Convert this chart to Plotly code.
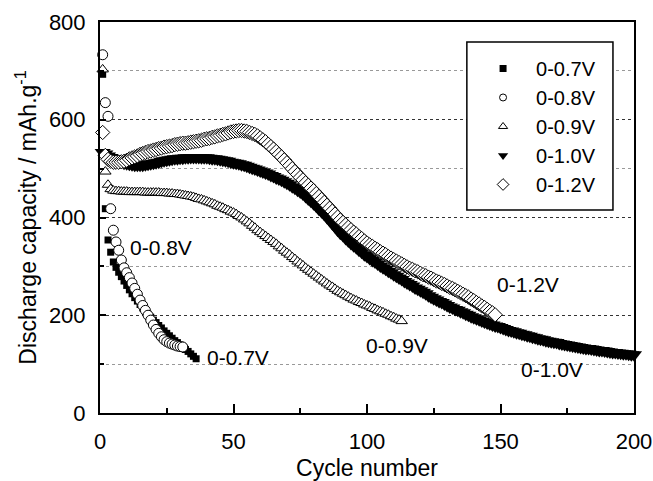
import plotly.graph_objects as go

# ---------------- data ----------------
v07 = [693, 418, 354, 329, 309, 298, 288, 279, 270, 261, 252, 244, 236, 229, 222, 215, 208, 202,
       196, 190, 185, 179, 174, 168, 163, 158, 153, 148, 144, 139, 135, 130, 126, 121, 116, 111]

v08 = [733, 635, 607, 418, 374, 350, 333, 313, 297, 287, 277, 266, 255, 243, 231, 220, 210, 200,
       190, 180, 171, 163, 156, 150, 146, 143, 141, 139, 137, 136, 135]

v09 = [703, 494, 467, 458, 455, 454, 454, 453, 453, 453, 452, 452, 452, 452, 452, 452, 451, 451,
       451, 451, 451, 451, 450, 450, 450, 449, 449, 448, 448, 447, 446, 445, 444, 443, 442, 440,
       438, 437, 435, 433, 431, 429, 427, 424, 422, 420, 417, 415, 412, 410, 407, 403, 400, 396,
       392, 388, 383, 379, 374, 370, 366, 362, 358, 354, 350, 346, 341, 337, 332, 328, 324, 319,
       315, 310, 306, 302, 297, 293, 289, 285, 281, 277, 273, 269, 265, 261, 258, 254, 250, 247,
       244, 241, 238, 235, 232, 230, 227, 225, 222, 220, 218, 215, 213, 210, 208, 206, 203, 201,
       198, 196, 193, 191, 188]

v10 = [533, 530, 526, 523, 520, 517, 515, 513, 511, 510, 509, 508, 507, 507, 507, 507, 508, 509,
       510, 511, 512, 513, 515, 516, 517, 518, 519, 520, 520, 521, 521, 522, 522, 523, 523, 523,
       523, 522, 522, 522, 521, 520, 520, 519, 518, 517, 516, 515, 513, 512, 511, 510, 508, 507,
       505, 503, 501, 499, 497, 495, 493, 491, 489, 486, 484, 481, 479, 476, 473, 470, 467, 463,
       460, 456, 452, 448, 443, 438, 433, 428, 423, 417, 412, 406, 400, 394, 387, 381, 374, 368,
       363, 357, 352, 347, 342, 338, 333, 329, 324, 320, 316, 312, 309, 305, 301, 297, 294, 290,
       287, 283, 280, 276, 273, 269, 266, 263, 260, 256, 253, 250, 247, 244, 240, 237, 234, 231,
       228, 226, 223, 220, 217, 215, 212, 210, 207, 205, 202, 200, 197, 195, 193, 191, 188, 186,
       184, 182, 180, 178, 177, 175, 173, 171, 169, 168, 166, 164, 163, 161, 160, 158, 157, 155,
       154, 152, 151, 150, 148, 147, 146, 145, 144, 142, 141, 140, 139, 138, 137, 136, 135, 134,
       133, 132, 132, 131, 130, 129, 128, 128, 127, 126, 125, 124, 124, 123, 122, 121, 121, 120,
       119, 119]

v12 = [574, 527, 519, 515, 513, 513, 513, 514, 515, 517, 520, 522, 524, 526, 529, 531, 533, 535,
       536, 538, 539, 541, 542, 544, 545, 546, 547, 549, 550, 551, 552, 552, 553, 554, 555, 556,
       557, 558, 560, 561, 562, 564, 565, 567, 568, 570, 571, 573, 575, 576, 577, 578, 578, 577,
       576, 574, 572, 570, 567, 563, 559, 555, 550, 545, 540, 535, 529, 524, 518, 512, 506, 500,
       494, 488, 482, 477, 471, 466, 460, 455, 449, 443, 437, 431, 425, 419, 413, 407, 401, 395,
       390, 385, 380, 375, 370, 366, 361, 357, 352, 348, 344, 341, 337, 334, 330, 327, 324, 320,
       317, 314, 311, 308, 305, 302, 299, 296, 294, 291, 289, 286, 283, 281, 278, 276, 273, 270,
       268, 265, 263, 260, 257, 255, 252, 249, 246, 243, 240, 237, 233, 230, 226, 223, 219, 216,
       212, 208, 205, 201]

series_names = ["0-0.7V", "0-0.8V", "0-0.9V", "0-1.0V", "0-1.2V"]
series_values = [v07, v08, v09, v10, v12]

x_ticks = [0, 50, 100, 150, 200]
y_ticks = [0, 200, 400, 600, 800]

curve_labels = ["0-0.8V", "0-0.7V", "0-0.9V", "0-1.2V", "0-1.0V"]
label_x = [10.3, 39.2, 99, 147.8, 157]
label_y = [338, 114, 138, 262, 88]

# ---------------- styles ----------------
styles = [
    dict(symbol="square", size=7, color="black", line=dict(color="black", width=0)),
    dict(symbol="circle", size=10, color="white", line=dict(color="black", width=1)),
    dict(symbol="triangle-up", size=10, color="white", line=dict(color="black", width=1)),
    dict(symbol="triangle-down", size=14, color="black", line=dict(color="black", width=0)),
    dict(symbol="diamond", size=11, color="white", line=dict(color="black", width=1)),
]
legend_styles = [
    dict(symbol="square", size=7, color="black", line=dict(color="black", width=0)),
    dict(symbol="circle", size=7, color="white", line=dict(color="black", width=1)),
    dict(symbol="triangle-up", size=8, color="white", line=dict(color="black", width=1)),
    dict(symbol="triangle-down", size=9, color="black", line=dict(color="black", width=0)),
    dict(symbol="diamond", size=9, color="white", line=dict(color="black", width=1)),
]

FONT = "Liberation Sans, Arial, sans-serif"

fig = go.Figure()
for name, vals, st in zip(series_names, series_values, styles):
    fig.add_trace(go.Scatter(
        x=list(range(1, len(vals) + 1)), y=vals, mode="markers", name=name,
        marker=st, cliponaxis=False, showlegend=False,
    ))
# legend entries (smaller symbols, as in the reference legend)
for name, st in zip(series_names, legend_styles):
    fig.add_trace(go.Scatter(x=[None], y=[None], mode="markers", name=name, marker=st,
                             showlegend=True))

for t, xx, yy in zip(curve_labels, label_x, label_y):
    fig.add_annotation(x=xx, y=yy, text=t, showarrow=False, xanchor="left", yanchor="middle",
                       font=dict(size=21, color="black", family=FONT))

# legend frame
fig.add_shape(type="rect", xref="paper", yref="paper", x0=0.687, x1=0.9606, y0=0.519, y1=0.949,
              line=dict(color="black", width=1.5), fillcolor="white", layer="above")

fig.update_layout(
    width=653, height=481,
    margin=dict(l=100, r=19, t=22, b=68),
    paper_bgcolor="white", plot_bgcolor="white",
    font=dict(family=FONT, color="black", size=22),
    showlegend=True,
    legend=dict(x=0.693, y=0.931, xanchor="left", yanchor="top", bgcolor="rgba(0,0,0,0)",
                borderwidth=0, font=dict(size=20, family=FONT), itemwidth=56,
                tracegroupgap=0),
    xaxis=dict(range=[0, 200], tickvals=x_ticks, ticks="inside", ticklen=9, tickwidth=1.5,
               tickcolor="black", showline=True, linecolor="black", linewidth=2, mirror=True,
               showgrid=False, zeroline=False, ticklabelstandoff=8, automargin=False,
               minor=dict(dtick=25, ticks="inside", ticklen=5, tickwidth=1.5, tickcolor="black",
                          showgrid=False),
               title=dict(text="Cycle number", font=dict(size=23), standoff=10)),
    yaxis=dict(range=[0, 800], tickvals=y_ticks, ticks="inside", ticklen=6, tickwidth=1.5,
               tickcolor="black", showline=True, linecolor="black", linewidth=2, mirror=True,
               showgrid=True, gridcolor="#333", griddash="dot", gridwidth=1, zeroline=False,
               ticklabelstandoff=8, automargin=False,
               minor=dict(dtick=100, ticks="inside", ticklen=4, tickwidth=1.5, tickcolor="black",
                          showgrid=True, gridcolor="#999", griddash="dot", gridwidth=1),
               title=dict(text="Discharge capacity / mAh.g<sup>-1</sup>", font=dict(size=23),
                          standoff=6)),
)

fig.write_html("out.html", config={"displayModeBar": False},
               post_script="document.body.style.margin='0';document.body.style.padding='0';")
